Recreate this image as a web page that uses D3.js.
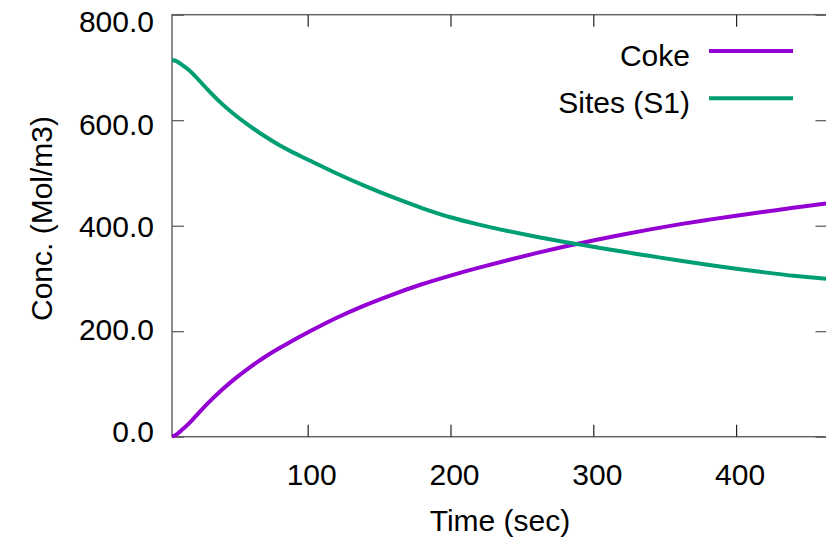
<!DOCTYPE html>
<html>
<head>
<meta charset="utf-8">
<script src="https://cdn.jsdelivr.net/npm/d3@7"></script>
<style>
  body { margin: 0; background: #fff; }
  text { font-family: "Liberation Sans", Arial, Helvetica, sans-serif; }
</style>
</head>
<body>
<div id="chart"></div>
<script>
// data
var time = [5, 8, 12, 16, 20, 30, 40, 50, 60, 70, 80, 90, 100, 120, 140, 160, 180, 200,
            220, 240, 260, 280, 300, 320, 340, 360, 380, 400, 420, 440, 463];
var coke = [0, 4, 13, 23, 34, 63, 89, 112, 132.5, 151, 167.5, 183, 197.5, 225, 249, 270, 289, 305.5,
            320.5, 334.5, 348, 360.5, 372, 383, 393, 402.5, 411, 419, 426.5, 434, 442];
var sites = [714, 712, 705, 697, 687, 658, 631, 608, 588, 569.5, 553, 538.5, 525.5, 499.5, 475.5, 453.5, 433.5, 416,
             402, 390, 379, 369, 360, 351, 342.5, 334, 326, 318.5, 311.5, 305, 299.5];
var seriesNames = ["Coke", "Sites (S1)"];
var seriesColors = ["#9400d3", "#009e73"];
var xTicks = [100, 200, 300, 400];
var yTicks = [0, 200, 400, 600, 800];

var width = 826, height = 539;
// plot box (note: "top" is taken by window.top, so use other names)
var plotL = 172, plotR = 827.5, plotT = 14.7, plotB = 436.7;
var tickLen = 12;

var svg = d3.select("#chart").append("svg")
    .attr("width", width)
    .attr("height", height);

var x = d3.scaleLinear().domain([5, 464]).range([plotL, plotR]);
var y = d3.scaleLinear().domain([0, 800]).range([plotB, plotT]);
// tick labels in the original sit on a slightly tighter spread than the ticks
var yLab = d3.scaleLinear().domain([0, 800]).range([430.8, 20.8]);

// border
svg.append("rect")
    .attr("x", plotL).attr("y", plotT)
    .attr("width", plotR - plotL).attr("height", plotB - plotT)
    .attr("fill", "none")
    .attr("stroke", "#666")
    .attr("stroke-width", 1.5);

// bottom axis, ticks inward
var gx = svg.append("g")
    .attr("transform", "translate(0," + plotB + ")")
    .call(d3.axisBottom(x).tickValues(xTicks).tickSizeInner(-tickLen).tickSizeOuter(0)
      .tickFormat(d3.format("d")));
gx.select(".domain").remove();
gx.selectAll("line").attr("stroke", "#222").attr("stroke-width", 1.2);
gx.selectAll("text")
    .attr("y", 48).attr("dy", null).attr("dx", 3.5)
    .attr("fill", "#000")
    .style("font-size", "30px");

// top mirror ticks
var gxTop = svg.append("g")
    .attr("transform", "translate(0," + plotT + ")")
    .call(d3.axisTop(x).tickValues(xTicks).tickSizeInner(-tickLen).tickSizeOuter(0).tickFormat(""));
gxTop.select(".domain").remove();
gxTop.selectAll("line").attr("stroke", "#222").attr("stroke-width", 1.2);

// left axis
var gy = svg.append("g")
    .attr("transform", "translate(" + plotL + ",0)")
    .call(d3.axisLeft(y).tickValues(yTicks).tickSizeInner(-tickLen).tickSizeOuter(0)
      .tickFormat(d3.format(".1f")));
gy.select(".domain").remove();
gy.selectAll("line").attr("stroke", "#555").attr("stroke-width", 1.2);
gy.selectAll("text")
    .attr("x", -18)
    .attr("y", function(d){ return yLab(d) - y(d); })
    .attr("dy", "0.36em")
    .attr("fill", "#000")
    .style("font-size", "30px");

// right mirror ticks
var gyR = svg.append("g")
    .attr("transform", "translate(" + plotR + ",0)")
    .call(d3.axisRight(y).tickValues(yTicks).tickSizeInner(-tickLen).tickSizeOuter(0).tickFormat(""));
gyR.select(".domain").remove();
gyR.selectAll("line").attr("stroke", "#555").attr("stroke-width", 1.2);

// axis titles
svg.append("text")
    .attr("x", 500).attr("y", 531)
    .attr("text-anchor", "middle")
    .style("font-size", "30px")
    .text("Time (sec)");

svg.append("text")
    .attr("transform", "translate(51.5,218.5) rotate(-90)")
    .attr("text-anchor", "middle")
    .style("font-size", "30px")
    .text("Conc. (Mol/m3)");

// lines
var series = [coke, sites];
var line = d3.line()
    .x(function(d){ return x(d[0]); })
    .y(function(d){ return y(d[1]); })
    .curve(d3.curveCatmullRom.alpha(0.5));

svg.append("defs").append("clipPath").attr("id", "clip")
  .append("rect")
    .attr("x", plotL).attr("y", plotT)
    .attr("width", plotR - plotL).attr("height", plotB - plotT + 2);

series.forEach(function(vals, i){
  svg.append("path")
      .datum(time.map(function(t, j){ return [t, vals[j]]; }))
      .attr("clip-path", "url(#clip)")
      .attr("fill", "none")
      .attr("stroke", seriesColors[i])
      .attr("stroke-width", 4)
      .attr("stroke-linejoin", "round")
      .attr("d", line);
});

// legend
var legend = svg.append("g");
seriesNames.forEach(function(name, i){
  var ly = 51 + i * 47.3;
  legend.append("line")
      .attr("x1", 709).attr("x2", 793)
      .attr("y1", ly).attr("y2", ly)
      .attr("stroke", seriesColors[i])
      .attr("stroke-width", 4);
  legend.append("text")
      .attr("x", 690).attr("y", ly + 15)
      .attr("text-anchor", "end")
      .style("font-size", "30px")
      .text(name);
});
</script>
</body>
</html>
